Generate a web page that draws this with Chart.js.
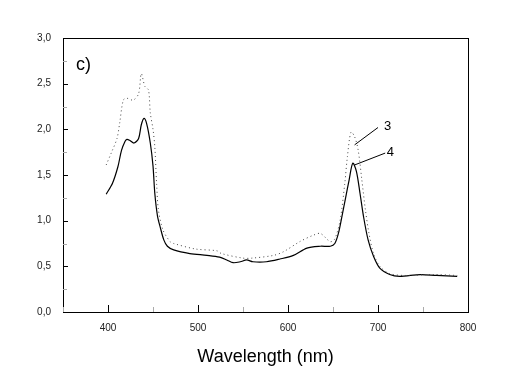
<!DOCTYPE html>
<html>
<head>
<meta charset="utf-8">
<script src="https://cdn.jsdelivr.net/npm/chart.js@4.4.0/dist/chart.umd.min.js"></script>
<style>
  html, body { margin: 0; padding: 0; background: #fff; }
  #wrap { width: 508px; height: 390px; }
</style>
</head>
<body>
<div id="wrap"><canvas id="grafico"></canvas></div>
<script>
// curva 4 (linha cheia)
const lambda4 = [398, 405, 411, 415, 419, 421, 424, 429, 434, 437, 440, 443, 447, 450, 452, 455, 458, 462, 466, 473,
    491, 510, 524, 532, 539, 547, 554, 561, 576, 591, 606, 621, 636, 647, 652, 656, 660, 664, 668, 672,
    676, 680, 684, 689, 695, 702, 713, 724, 747, 765, 788];
const valores4 = [1.29, 1.41, 1.59, 1.77, 1.87, 1.89, 1.88, 1.85, 1.90, 2.05, 2.12, 2.06, 1.85, 1.60, 1.30, 1.05, 0.93, 0.79, 0.72, 0.68,
    0.64, 0.62, 0.60, 0.57, 0.54, 0.55, 0.57, 0.55, 0.55, 0.58, 0.62, 0.70, 0.72, 0.72, 0.75, 0.86, 1.05, 1.25, 1.45, 1.63,
    1.54, 1.30, 1.04, 0.79, 0.61, 0.48, 0.41, 0.39, 0.41, 0.40, 0.39];

// curva 3 (pontilhada)
const lambda3 = [398, 404, 410, 413, 417, 421, 428, 434, 437, 441, 445, 447, 450, 452, 454, 456, 461, 469, 473, 497,
    521, 526, 550, 560, 584, 595, 613, 628, 636, 647, 652, 658, 663, 666, 670, 674, 678, 682, 686, 690,
    695, 702, 713, 730, 760, 788];
const valores3 = [1.61, 1.75, 1.90, 2.07, 2.32, 2.34, 2.32, 2.39, 2.61, 2.47, 2.43, 2.18, 2.00, 1.81, 1.41, 1.12, 0.90, 0.77, 0.75, 0.69,
    0.67, 0.64, 0.59, 0.59, 0.62, 0.66, 0.77, 0.84, 0.86, 0.77, 0.80, 1.01, 1.40, 1.70, 1.97, 1.92, 1.77, 1.45, 1.12, 0.86,
    0.64, 0.50, 0.42, 0.40, 0.41, 0.40];

// rótulos das curvas: [texto, início da linha, fim da linha, posição do texto]
const rotulos = [
    { texto: '3', de: [674, 1.83], ate: [700, 2.02], pos: [710, 2.03] },
    { texto: '4', de: [674, 1.61], ate: [708, 1.74], pos: [713, 1.75] }
];

const xMin = 350, xMax = 800, xPasso = 100, xMenor = 50;
const yMin = 0, yMax = 3, yPasso = 0.5, yMenor = 0.25;

function pontos(xs, ys) {
    return xs.map((x, i) => ({ x: x, y: ys[i] }));
}

// ticks para dentro + moldura + rótulos
const extras = {
    id: 'extras',
    afterDraw(chart) {
        const ctx = chart.ctx;
        const a = chart.chartArea;
        const sx = chart.scales.x;
        const sy = chart.scales.y;
        ctx.save();
        ctx.strokeStyle = '#000';
        ctx.lineWidth = 1;
        ctx.strokeRect(Math.round(a.left) + 0.5, Math.round(a.top) + 0.5,
            Math.round(a.right - a.left), Math.round(a.bottom - a.top));

        for (let v = xMin; v <= xMax; v += xMenor) {
            const px = Math.round(sx.getPixelForValue(v)) + 0.5;
            const maior = (v % xPasso === 0);
            ctx.strokeStyle = maior ? '#000' : '#aaa';
            ctx.beginPath();
            ctx.moveTo(px, a.bottom);
            ctx.lineTo(px, a.bottom - (maior ? 7 : 5));
            ctx.stroke();
        }
        for (let v = yMin; v <= yMax + 0.001; v += yMenor) {
            const py = Math.round(sy.getPixelForValue(v)) + 0.5;
            const maior = Math.abs(v / yPasso - Math.round(v / yPasso)) < 0.01;
            ctx.strokeStyle = maior ? '#000' : '#aaa';
            ctx.beginPath();
            ctx.moveTo(a.left, py);
            ctx.lineTo(a.left + (maior ? 5 : 4), py);
            ctx.stroke();
        }

        ctx.fillStyle = '#000';
        ctx.font = '18px Arial, "Liberation Sans", sans-serif';
        ctx.textBaseline = 'alphabetic';
        ctx.fillText('c)', a.left + 13, a.top + 32);

        ctx.font = '13px Arial, "Liberation Sans", sans-serif';
        ctx.textBaseline = 'middle';
        ctx.strokeStyle = '#000';
        rotulos.forEach(r => {
            ctx.beginPath();
            ctx.moveTo(sx.getPixelForValue(r.de[0]), sy.getPixelForValue(r.de[1]));
            ctx.lineTo(sx.getPixelForValue(r.ate[0]), sy.getPixelForValue(r.ate[1]));
            ctx.stroke();
            ctx.fillText(r.texto, sx.getPixelForValue(r.pos[0]) - 3, sy.getPixelForValue(r.pos[1]));
        });
        ctx.restore();
    }
};

const grafico = new Chart(document.getElementById('grafico').getContext('2d'), {
    type: 'line',
    data: {
        datasets: [{
            label: '3',
            data: pontos(lambda3, valores3),
            borderColor: '#444',
            borderWidth: 1,
            borderDash: [1, 3],
            pointRadius: 0,
            tension: 0.3,
            fill: false
        }, {
            label: '4',
            data: pontos(lambda4, valores4),
            borderColor: '#000',
            borderWidth: 1.2,
            pointRadius: 0,
            tension: 0.3,
            fill: false
        }]
    },
    options: {
        responsive: true,
        maintainAspectRatio: false,
        animation: false,
        layout: { padding: { left: 0, right: 40, top: 38, bottom: 18 } },
        plugins: {
            legend: { display: false },
            tooltip: { enabled: false }
        },
        scales: {
            x: {
                type: 'linear',
                min: xMin,
                max: xMax,
                grid: { display: false },
                border: { display: false },
                ticks: {
                    stepSize: xPasso,
                    padding: 2,
                    color: '#222',
                    font: { size: 10, family: 'Arial, "Liberation Sans", sans-serif' },
                    callback: v => (v % xPasso === 0 && v >= 400) ? String(v) : ''
                },
                title: {
                    display: true,
                    text: 'Wavelength (nm)',
                    color: '#000',
                    font: { size: 18, family: 'Arial, "Liberation Sans", sans-serif' },
                    padding: { top: 14 }
                },
                afterFit: s => { s.height = 60; }
            },
            y: {
                min: yMin,
                max: yMax,
                grid: { display: false },
                border: { display: false },
                ticks: {
                    stepSize: yPasso,
                    padding: 4,
                    color: '#222',
                    font: { size: 10, family: 'Arial, "Liberation Sans", sans-serif' },
                    callback: v => v.toFixed(1).replace('.', ',')
                },
                afterFit: s => { s.width = 63; }
            }
        }
    },
    plugins: [extras]
});
</script>
</body>
</html>
